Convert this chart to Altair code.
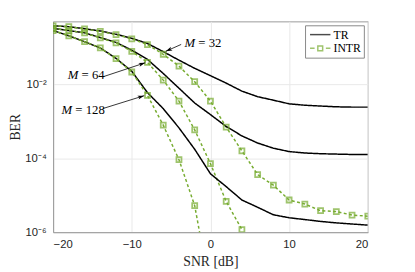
import altair as alt
import pandas as pd
import math

snr = list(range(-20, 21, 2))

ber_tr_32 = [0.380, 0.359, 0.316, 0.275, 0.224, 0.174, 0.126, 0.0759, 0.0447, 0.0269, 0.0170,
             0.0107, 6.5e-3, 4.6e-3, 3.7e-3, 2.95e-3, 2.7e-3, 2.57e-3, 2.45e-3, 2.4e-3, 2.4e-3]
ber_intr_32 = [0.380, 0.359, 0.311, 0.269, 0.219, 0.169, 0.117, 0.0646, 0.0309, 0.0117, 3.5e-3,
               6.9e-4, 1.58e-4, 3.6e-5, 1.86e-5, 7.4e-6, 5.75e-6, 3.8e-6, 3.6e-6, 2.9e-6, 2.7e-6]
ber_tr_64 = [0.324, 0.282, 0.245, 0.182, 0.135, 0.083, 0.0468, 0.0195, 7.8e-3, 3.1e-3, 1.51e-3,
             7.2e-4, 4.0e-4, 2.57e-4, 1.86e-4, 1.51e-4, 1.38e-4, 1.32e-4, 1.29e-4, 1.26e-4, 1.26e-4]
ber_intr_64 = [0.324, 0.282, 0.245, 0.178, 0.132, 0.0776, 0.0389, 0.0129, 3.5e-3, 5.8e-4, 7.1e-5,
               6.8e-6, 1.17e-6, None, None, None, None, None, None, None, None]
ber_tr_128 = [0.282, 0.204, 0.141, 0.0955, 0.050, 0.0224, 5.9e-3, 2.19e-3, 6.6e-4, 1.74e-4, 3.8e-5,
              1.7e-5, 7.4e-6, 4.7e-6, 2.95e-6, 2.45e-6, 2.19e-6, 1.95e-6, 1.78e-6, 1.66e-6, 1.55e-6]
ber_intr_128 = [0.282, 0.204, 0.141, 0.0955, 0.049, 0.0214, 5.0e-3, 7.8e-4, 9.1e-5, 5.2e-6, 2.5e-8,
                None, None, None, None, None, None, None, None, None, None]

schemes = ["TR", "INTR"]
series = [
    ("TR", "32", ber_tr_32), ("INTR", "32", ber_intr_32),
    ("TR", "64", ber_tr_64), ("INTR", "64", ber_intr_64),
    ("TR", "128", ber_tr_128), ("INTR", "128", ber_intr_128),
]

rows = []
for sch, m, vals in series:
    for x, v in zip(snr, vals):
        if v is not None:
            rows.append({"snr": x, "ber": v, "scheme": sch, "series": sch + m})
df = pd.DataFrame(rows)

# annotations
ann_m = ["32", "64", "128"]
ann_text_x = [-3.29, -18.13, -18.92]
ann_text_y = [0.130, 0.0178, 2.04e-3]
arrow_x0 = [-3.72, -13.69, -13.69]
arrow_y0 = [0.119, 0.0158, 2.19e-3]
arrow_x1 = [-5.68, -8.29, -8.42]
arrow_y1 = [0.0776, 0.038, 4.9e-3]

# screen-space arrow angles (px per dB, px per decade)
PX_X, PX_DEC = 8.03, 37.5
angles = []
for a, b, c, d in zip(arrow_x0, arrow_y0, arrow_x1, arrow_y1):
    dx = (c - a) * PX_X
    dy = -(math.log10(d) - math.log10(b)) * PX_DEC
    angles.append(math.degrees(math.atan2(dx, -dy)) % 360)

df_ann = pd.DataFrame({
    "m": ["= " + m for m in ann_m], "tx": ann_text_x, "ty": ann_text_y,
    "x0": arrow_x0, "y0": arrow_y0, "x1": arrow_x1, "y1": arrow_y1, "ang": angles,
})

GREEN = "#77AC30"
SERIF = "Liberation Serif"
SANS = "Liberation Sans"

xs = alt.Scale(domain=[-20, 20], nice=False)
ys = alt.Scale(type="log", domain=[1e-6, 0.5], nice=False)

xax = alt.Axis(values=[-20, -10, 0, 10, 20], title="SNR [dB]", grid=True)
yax = alt.Axis(values=[1e-6, 1e-4, 1e-2], title="BER", grid=True, titleX=-31,
               labelExpr="datum.value < 2e-6 ? '10⁻⁶' : datum.value < 2e-4 ? '10⁻⁴' : '10⁻²'")

base = alt.Chart(df)

lines = base.mark_line(clip=True, strokeWidth=1.5).encode(
    x=alt.X("snr:Q", scale=xs, axis=xax),
    y=alt.Y("ber:Q", scale=ys, axis=yax),
    color=alt.Color("scheme:N", scale=alt.Scale(domain=schemes, range=["#000000", GREEN]), legend=None),
    strokeDash=alt.StrokeDash("scheme:N", scale=alt.Scale(domain=schemes, range=[[1, 0], [3, 2.5]]), legend=None),
    detail="series:N",
)

markers = base.transform_filter(alt.datum.scheme == "INTR").mark_point(
    clip=True, filled=False, shape="square", size=26, strokeWidth=1.8, color=GREEN
).encode(x="snr:Q", y="ber:Q")

# legend-only layer (points lie outside the domain and are clipped)
leg_df = pd.DataFrame({"snr": [-100, -100], "ber": [0.1, 0.1], "kind": schemes})
legend_layer = alt.Chart(leg_df).mark_point(clip=True, filled=False, strokeWidth=1.5).encode(
    x="snr:Q", y="ber:Q",
    color=alt.Color("kind:N", scale=alt.Scale(domain=schemes, range=["#000000", GREEN]),
                    legend=alt.Legend(title=None)),
    shape=alt.Shape("kind:N", scale=alt.Scale(
        domain=schemes,
        range=["M-1.9,0H1.9",
               "M-1.9,0H-1.05M-0.45,-0.45H0.45V0.45H-0.45ZM1.05,0H1.9"]),
        legend=alt.Legend(title=None)),
)

txt_m = alt.Chart(df_ann).mark_text(
    font=SERIF, fontSize=13, fontStyle="italic", align="left", baseline="middle"
).encode(x="tx:Q", y="ty:Q", text=alt.value("M"))
txt_rest = alt.Chart(df_ann).mark_text(
    font=SERIF, fontSize=13, align="left", baseline="middle", dx=14
).encode(x="tx:Q", y="ty:Q", text="m:N")

arrows = alt.Chart(df_ann).mark_rule(color="#000000", strokeWidth=0.8).encode(
    x="x0:Q", y="y0:Q", x2="x1:Q", y2="y1:Q")
heads = alt.Chart(df_ann).mark_point(
    shape="M0,0L0.5,1.6L0,1.2L-0.5,1.6Z", filled=True, color="#000000", size=70, opacity=1
).encode(x="x1:Q", y="y1:Q", angle=alt.Angle("ang:Q", scale=None))

chart = alt.layer(lines, markers, legend_layer, arrows, heads, txt_m, txt_rest).resolve_scale(
    color="independent", shape="independent"
).properties(
    width=321, height=215,
    autosize=alt.AutoSizeParams(type="none"),
    padding={"left": 46, "top": 11, "right": 40, "bottom": 38},
).configure_view(stroke="#999999", strokeWidth=1).configure_axis(
    domainColor="#999999", tickColor="#999999", tickSize=0,
    gridColor="#e8e8e8", gridWidth=1,
    labelFont=SANS, labelFontSize=11.5, labelColor="#262626",
    titleFont=SERIF, titleFontSize=14, titleFontWeight="normal", titleColor="#262626",
).configure_axisX(labelPadding=7, titlePadding=5).configure_axisY(labelPadding=7).configure_legend(
    orient="top-right", offset=4, strokeColor="#888888", fillColor="white", padding=3,
    labelFont=SERIF, labelFontSize=12, labelColor="#000000", symbolSize=120, symbolStrokeWidth=1.5,
    symbolOffset=6, rowPadding=1, labelOffset=7,
)

chart.save("out.html", embed_options={"renderer": "svg", "actions": False})
